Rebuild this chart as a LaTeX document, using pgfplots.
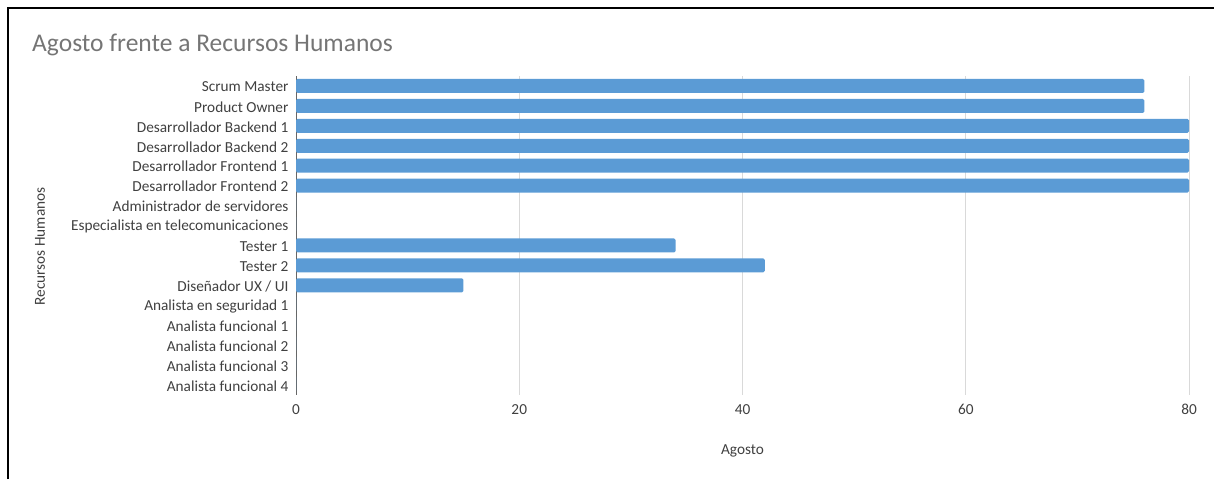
\documentclass[border=0pt]{standalone}
\usepackage{pgfplots}
\pgfplotsset{compat=1.18}
\usepackage{fontspec}
\setmainfont{Carlito}
\definecolor{barblue}{HTML}{5B9BD5}
\definecolor{gridgray}{HTML}{D9D9D9}
\definecolor{txtgray}{HTML}{404040}
\definecolor{titlegray}{HTML}{757575}
\begin{document}
\begin{tikzpicture}[x=1pt,y=1pt]
\path[use as bounding box] (0,0) rectangle (1214,479);
\draw[line width=2pt,black] (8,0) -- (8,471) -- (1214,471);
\node[anchor=base west,text=titlegray,font=\fontsize{25.5}{30}\selectfont,inner sep=0pt] at (32,427) {Agosto frente a Recursos Humanos};
\node[rotate=90,text=txtgray,font=\fontsize{15.3}{18}\selectfont] at (40,232.5) {Recursos Humanos};
\begin{axis}[
  at={(296pt,84pt)}, anchor=south west,
  scale only axis, width=893pt, height=319pt,
  xbar, bar width=14pt,
  xmin=0, xmax=80, ymin=-0.5, ymax=15.5,
  y dir=reverse,
  xtick={0,20,40,60,80},
  ytick={0,...,15},
  yticklabels={Scrum Master,Product Owner,Desarrollador Backend 1,Desarrollador Backend 2,Desarrollador Frontend 1,Desarrollador Frontend 2,Administrador de servidores,Especialista en telecomunicaciones,Tester 1,Tester 2,Diseñador UX / UI,Analista en seguridad 1,Analista funcional 1,Analista funcional 2,Analista funcional 3,Analista funcional 4},
  axis x line*=bottom, axis y line*=left,
  x axis line style={draw=none},
  y axis line style={draw=gray!80!black, line width=1pt, -},
  major tick length=0pt,
  xmajorgrids, grid style={gridgray, line width=1pt},
  /pgf/number format/assume math mode=true,
  tick label style={text=txtgray, font=\fontsize{15.3}{18}\selectfont},
  xticklabel style={yshift=-6pt},
  yticklabel style={xshift=-4pt, yshift=-1pt},
  xlabel={Agosto},
  every axis x label/.style={at={(axis description cs:0.5,0)}, anchor=center, yshift=-56pt, text=txtgray, font=\fontsize{15.3}{18}\selectfont},
  clip=false,
]
\addplot[draw=none, fill=barblue, rounded corners=1.5pt] coordinates {
(76,0) (76,1) (80,2) (80,3) (80,4) (80,5) (0,6) (0,7) (34,8) (42,9) (15,10) (0,11) (0,12) (0,13) (0,14) (0,15)};
\end{axis}
\end{tikzpicture}
\end{document}
